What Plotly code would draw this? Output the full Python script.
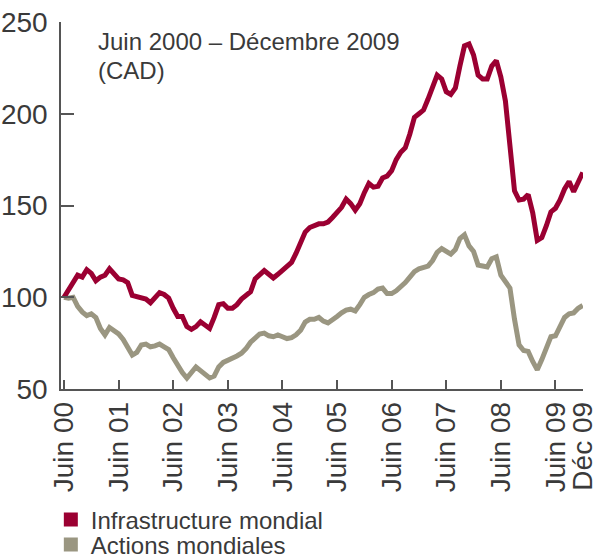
import pandas as pd
import plotly.graph_objects as go

months = pd.date_range("2000-06-01", periods=115, freq="MS")

infrastructure = [
    100, 104, 109, 112, 111, 115, 113, 109, 111, 112, 115.5, 113,
    110, 109.5, 108, 101, 100.5, 99.5, 99, 97, 99.5, 102.5, 101.5, 99.5,
    94, 89.5, 89.5, 84, 82.5, 84, 86.6, 85, 83, 89, 96, 96.5,
    94, 94, 96, 99, 101, 103, 110, 112, 114.5, 112.5, 110.5, 112.5,
    114.5, 116.5, 119, 124, 130, 135.5, 138, 139, 140, 140, 141, 143.5,
    146.5, 149, 153.5, 151, 147.5, 151, 157, 162, 160, 160.5, 165, 166,
    169, 175, 179, 181.5, 189, 198, 200, 202, 208, 215, 221, 219,
    212, 210.5, 214, 226, 237, 238, 232, 221, 219, 219, 226, 229,
    220, 207, 183, 158, 153, 153.5, 156, 146, 131, 132.5, 139, 146.5,
    148.5, 153, 159, 163, 157.5, 163, 168,
]

actions = [
    100, 99.5, 100, 95, 92, 90, 91, 89, 83, 79.5, 83.5, 82,
    80, 77, 73, 68.5, 70, 74, 74.5, 73, 73.5, 74.5, 73, 71.5,
    67, 62.5, 59, 56, 59, 62, 60, 58, 56, 57, 62, 64.5,
    65.5, 66.5, 68, 69.5, 72, 75.5, 78, 80, 80.5, 79, 78.5, 79.5,
    78.5, 77.5, 78, 79.5, 82, 86.5, 88, 88, 89, 87, 86, 87.5,
    89.5, 91.5, 93, 93.5, 92.5, 96, 100, 101.5, 102.5, 104.5, 105, 102,
    102, 103.5, 105.5, 108, 111, 114, 115.5, 116.5, 117, 120, 124.5, 126.5,
    125, 123.5, 126, 132, 134, 128, 125, 117.5, 117, 116.5, 121, 122,
    112, 108.5, 105, 88, 74, 71, 70.5, 65, 60.5, 66, 73, 78.5,
    79, 83.5, 89, 91, 91.5, 94, 95.5,
]

series_names = ["Infrastructure mondial", "Actions mondiales"]
series_colors = ["#9b0032", "#9a9681"]

# month index of each observation (0 = June 2000)
month_index = list(range(len(months)))

tick_months = [f"{y}-06" for y in range(2000, 2010)] + ["2009-12"]
tick_labels = [f"Juin {y % 100:02d}" for y in range(2000, 2010)] + ["Déc 09"]
month_pos = {d.strftime("%Y-%m"): i for i, d in enumerate(months)}
tick_vals = [month_pos[t] for t in tick_months]

y_ticks = [50, 100, 150, 200, 250]

FONT = "Liberation Sans, Arial, sans-serif"
TXT = "#3a3a3a"
AX = "#555555"

fig = go.Figure()
# draw grey first so red is on top
fig.add_trace(go.Scatter(x=month_index, y=actions, mode="lines",
                         line=dict(color=series_colors[1], width=5),
                         showlegend=False, hoverinfo="skip"))
fig.add_trace(go.Scatter(x=month_index, y=infrastructure, mode="lines",
                         line=dict(color=series_colors[0], width=5),
                         showlegend=False, hoverinfo="skip"))
for name, col, lg in zip(series_names, series_colors, ["legend", "legend2"]):
    fig.add_trace(go.Scatter(x=[None], y=[None], mode="markers", name=name,
                             legend=lg,
                             marker=dict(symbol="square", size=14, color=col)))

leg_common = dict(xref="container", yref="container", xanchor="left",
                  yanchor="middle", font=dict(size=24, color=TXT),
                  bgcolor="rgba(0,0,0,0)", itemwidth=30)

fig.update_layout(
    width=598, height=560,
    margin=dict(l=61, r=15, t=22, b=171, autoexpand=False),
    paper_bgcolor="white", plot_bgcolor="white",
    font=dict(family=FONT, size=24, color=TXT),
    showlegend=True,
    legend=dict(x=0.085, y=1 - 520 / 560, **leg_common),
    legend2=dict(x=0.085, y=1 - 545 / 560, **leg_common),
    xaxis=dict(range=[-0.66, 114.05],
               tickmode="array", tickvals=tick_vals, ticktext=tick_labels,
               tickangle=-90, ticks="inside", ticklen=9, tickwidth=1.5, tickcolor=AX,
               showline=True, linecolor=AX, linewidth=1.5, showgrid=False,
               zeroline=False, tickfont=dict(size=28, color=TXT), automargin=False,
               ticklabelstandoff=0, ticklabeloverflow="allow"),
    yaxis=dict(range=[50, 250], tickmode="array", tickvals=y_ticks,
               ticks="inside", ticklen=13, tickwidth=1.5, tickcolor=AX,
               showline=True, linecolor=AX, linewidth=1.5, showgrid=False,
               zeroline=False, tickfont=dict(size=28, color=TXT), automargin=False,
               ticklabelstandoff=6),
    annotations=[
        dict(text="Juin 2000 – Décembre 2009", xref="paper", yref="paper",
             x=0.067, y=0.947, xanchor="left", yanchor="middle", showarrow=False,
             font=dict(size=24, color=TXT)),
        dict(text="(CAD)", xref="paper", yref="paper",
             x=0.067, y=0.868, xanchor="left", yanchor="middle", showarrow=False,
             font=dict(size=24, color=TXT)),
    ],
)

fig.write_html("out.html", config={"displayModeBar": False},
               post_script="document.body.style.margin='0';")
